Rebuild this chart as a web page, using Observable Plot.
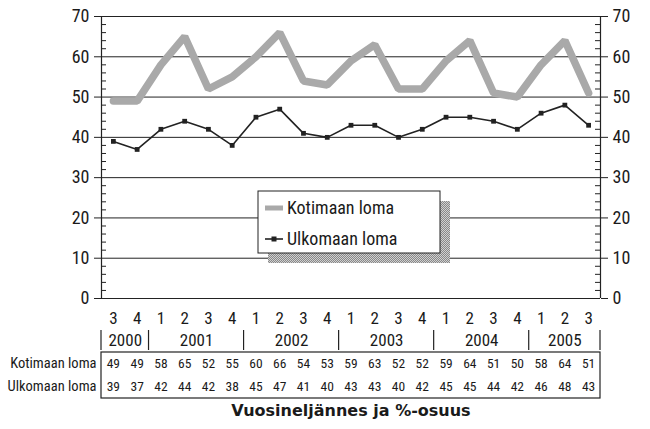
<!DOCTYPE html>
<html><head><meta charset="utf-8">
<script src="https://cdn.jsdelivr.net/npm/d3@7"></script>
<script src="https://cdn.jsdelivr.net/npm/@observablehq/plot@0.6"></script>
<style>
body{margin:0;background:#fff;}
</style></head><body><div id="chart"></div>
<script>
const quarters = [3,4,1,2,3,4,1,2,3,4,1,2,3,4,1,2,3,4,1,2,3];
const years = [2000,2001,2002,2003,2004,2005];
const yearCounts = [2,4,4,4,4,3];
const kotimaan = [49,49,58,65,52,55,60,66,54,53,59,63,52,52,59,64,51,50,58,64,51];
const ulkomaan = [39,37,42,44,42,38,45,47,41,40,43,43,40,42,45,45,44,42,46,48,43];
const seriesNames = ["Kotimaan loma","Ulkomaan loma"];
const yTicks = [0,10,20,30,40,50,60,70];
const xTitle = "Vuosineljännes ja %-osuus";

const F = '"Liberation Sans Narrow","Arial Narrow","Roboto Condensed",Roboto,sans-serif';
const minor = d3.range(2, 70, 2).filter(v => v % 10 !== 0);
let acc = 0;
const yearRows = years.map((y, j) => { const s = acc; acc += yearCounts[j]; return {year: y, s, e: acc - 1, mid: (s + acc - 1) / 2}; });
const bounds = [-0.5, ...yearRows.map(r => r.e + 0.5)];
const n = quarters.length;
const W = 650, H = 429, mL = 101, mR = 50, mT = 16, mB = 131;
const fw = W - mL - mR;
const ink = "#222";

const chart = Plot.plot({
  width: W, height: H, marginTop: mT, marginBottom: mB, marginLeft: mL, marginRight: mR,
  style: {fontFamily: F, background: "#fff", overflow: "visible", color: "#1a1a1a"},
  x: {domain: [-0.5, n - 0.5], axis: null},
  y: {domain: [0, 70], axis: null},
  marks: [
    Plot.gridY(yTicks.filter(v => v > 0), {stroke: ink, strokeOpacity: 1, strokeWidth: 1}),
    Plot.tickY(minor, {y: d => d, insetRight: fw - 5, stroke: ink}),
    Plot.tickY(minor, {y: d => d, insetLeft: fw - 5, stroke: ink}),
    Plot.axisY(yTicks, {anchor: "left", tickSize: 7, tickPadding: 5, fontSize: 18, stroke: ink}),
    Plot.axisY(yTicks, {anchor: "right", tickSize: 7, tickPadding: 5, fontSize: 18, stroke: ink}),
    Plot.ruleX([-0.5, n - 0.5], {stroke: ink, strokeWidth: 1.2}),
    Plot.ruleY([0], {stroke: ink, strokeWidth: 1.2}),
    Plot.lineY(kotimaan, {x: (d, i) => i, y: d => d, stroke: "#a9a9a9", strokeWidth: 7.5, strokeLinejoin: "miter"}),
    Plot.lineY(ulkomaan, {x: (d, i) => i, y: d => d, stroke: ink, strokeWidth: 1.6}),
    Plot.dot(ulkomaan, {x: (d, i) => i, y: d => d, symbol: "square", r: 2.7, fill: ink, stroke: "none"}),
    Plot.text(quarters, {x: (d, i) => i, text: d => String(d), frameAnchor: "bottom", lineAnchor: "middle", dy: 20, fontSize: 17}),
    Plot.text(yearRows, {x: "mid", text: d => String(d.year), frameAnchor: "bottom", lineAnchor: "middle", dy: 42, fontSize: 17}),
    Plot.text(kotimaan, {x: (d, i) => i, text: d => String(d), frameAnchor: "bottom", lineAnchor: "middle", dy: 65, fontSize: 13.5}),
    Plot.text(ulkomaan, {x: (d, i) => i, text: d => String(d), frameAnchor: "bottom", lineAnchor: "middle", dy: 88, fontSize: 13.5}),
    Plot.text([seriesNames[0]], {x: -0.5, text: d => d, frameAnchor: "bottom", lineAnchor: "middle", dy: 65, dx: -5, textAnchor: "end", fontSize: 14.5}),
    Plot.text([seriesNames[1]], {x: -0.5, text: d => d, frameAnchor: "bottom", lineAnchor: "middle", dy: 88, dx: -5, textAnchor: "end", fontSize: 14.5}),
    Plot.text([xTitle], {text: d => d, frameAnchor: "bottom", lineAnchor: "middle", dy: 112, fontSize: 16, fontWeight: "bold", fontFamily: "DejaVu Sans"})
  ]
});

const svg = d3.select(chart);
const sx = chart.scale("x");
const yb = H - mB;
// year separators
svg.append("g").selectAll("line").data(bounds).join("line")
  .attr("x1", d => sx.apply(d)).attr("x2", d => sx.apply(d))
  .attr("y1", yb + 32).attr("y2", yb + 52).attr("stroke", ink).attr("stroke-width", 1.2);
// table box
svg.append("rect")
  .attr("x", sx.apply(-0.5)).attr("y", yb + 54)
  .attr("width", sx.apply(n - 0.5) - sx.apply(-0.5)).attr("height", 46)
  .attr("fill", "none").attr("stroke", ink).attr("stroke-width", 1.2);

// legend
const defs = svg.append("defs");
const pat = defs.append("pattern").attr("id", "hatch").attr("width", 2).attr("height", 2).attr("patternUnits", "userSpaceOnUse");
pat.append("rect").attr("width", 2).attr("height", 2).attr("fill", "#d0d0d0");
pat.append("rect").attr("width", 1).attr("height", 1).attr("fill", "#888");
pat.append("rect").attr("x", 1).attr("y", 1).attr("width", 1).attr("height", 1).attr("fill", "#888");
const lg = svg.append("g").attr("transform", "translate(258,191)");
lg.append("rect").attr("x", 10).attr("y", 10).attr("width", 182).attr("height", 62).attr("fill", "url(#hatch)");
lg.append("rect").attr("width", 182).attr("height", 62).attr("fill", "#fff").attr("stroke", ink).attr("stroke-width", 1);
lg.append("line").attr("x1", 7).attr("x2", 25).attr("y1", 17).attr("y2", 17).attr("stroke", "#a9a9a9").attr("stroke-width", 5);
lg.append("line").attr("x1", 7).attr("x2", 25).attr("y1", 48).attr("y2", 48).attr("stroke", ink).attr("stroke-width", 1.6);
lg.append("rect").attr("x", 13.5).attr("y", 45.5).attr("width", 5).attr("height", 5).attr("fill", ink);
lg.selectAll("text.lgt").data(seriesNames).join("text").attr("class", "lgt")
  .attr("x", 29).attr("y", (d, i) => 17 + i * 31).attr("dy", "0.35em")
  .attr("text-anchor", "start")
  .attr("font-size", 18).attr("font-family", F).attr("fill", "#1a1a1a").text(d => d);

document.getElementById("chart").appendChild(chart);
</script>
</body></html>
